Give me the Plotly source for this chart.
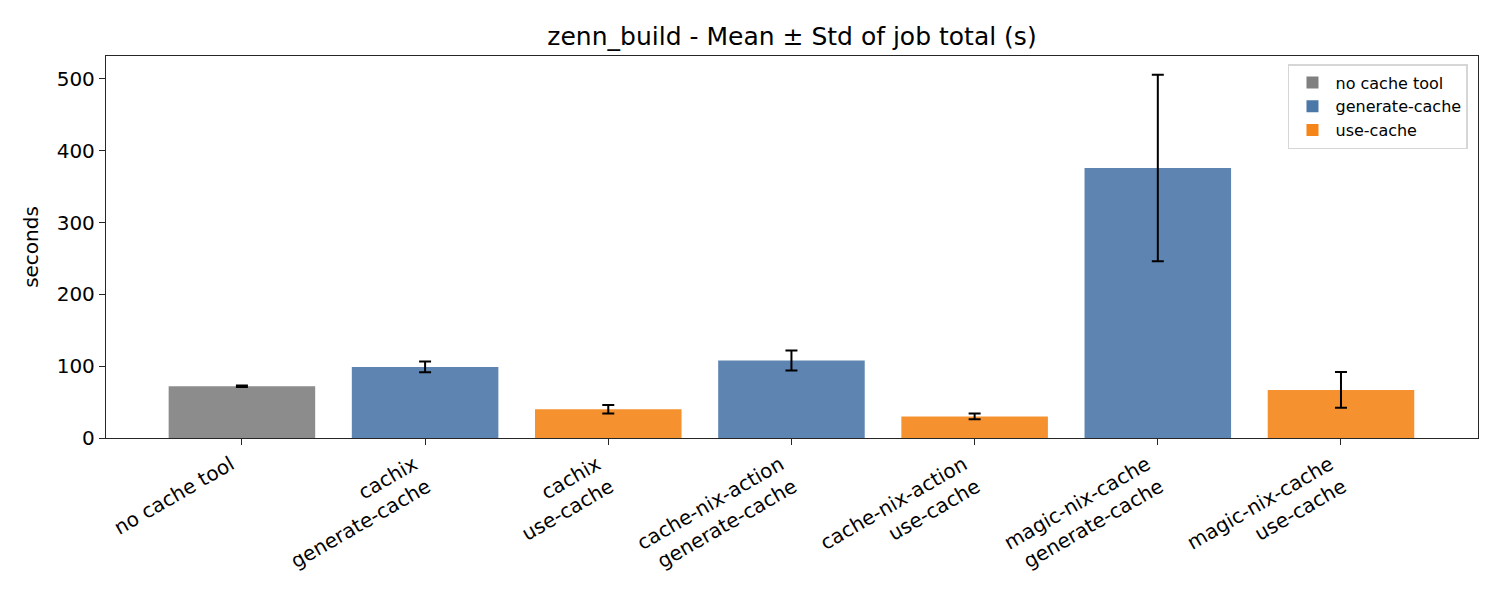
import plotly.graph_objects as go

# categories (tick labels) and per-bar values
labels = [
    "no cache tool",
    "cachix<br>generate-cache",
    "cachix<br>use-cache",
    "cache-nix-action<br>generate-cache",
    "cache-nix-action<br>use-cache",
    "magic-nix-cache<br>generate-cache",
    "magic-nix-cache<br>use-cache",
]
groups = ["no cache tool", "generate-cache", "use-cache",
          "generate-cache", "use-cache", "generate-cache", "use-cache"]
means = [72, 99, 40, 108, 30, 376, 67]
stds = [1, 7.5, 6, 14, 4, 130, 25]

colors = {
    "no cache tool": "#808080",
    "generate-cache": "#4c78a8",
    "use-cache": "#f58518",
}

fig = go.Figure()
for g in ["no cache tool", "generate-cache", "use-cache"]:
    idx = [i for i, x in enumerate(groups) if x == g]
    fig.add_trace(
        go.Bar(
            x=idx,
            y=[means[i] for i in idx],
            name=g,
            width=0.8,
            marker=dict(color=colors[g], opacity=0.9, line=dict(width=0)),
            error_y=dict(
                type="data",
                array=[stds[i] for i in idx],
                color="black",
                thickness=2,
                width=6,
            ),
        )
    )

# the page body has an 8px margin, so the figure is a bit smaller
font = "DejaVu Sans"
fig.update_layout(
    width=1492,
    height=592,
    margin=dict(l=98, r=22, t=48, b=162),
    plot_bgcolor="white",
    paper_bgcolor="white",
    font=dict(family=font, size=20, color="black"),
    barmode="overlay",
    title=dict(
        text="zenn_build - Mean ± Std of job total (s)",
        xref="paper",
        x=0.5,
        xanchor="center",
        y=0.953,
        yanchor="middle",
        font=dict(size=25),
    ),
    legend=dict(
        x=0.9927,
        y=0.979,
        xanchor="right",
        yanchor="top",
        bordercolor="#d6d6d6",
        borderwidth=1.5,
        font=dict(size=16),
        bgcolor="rgba(255,255,255,0.8)",
        itemwidth=36,
        tracegroupgap=4,
    ),
    showlegend=True,
)
fig.update_xaxes(
    tickmode="array",
    tickvals=list(range(len(labels))),
    ticktext=labels,
    tickangle=-30,
    ticklabelshift=-11,
    range=[-0.742, 6.748],
    showgrid=False,
    zeroline=False,
    showline=True,
    linecolor="#262626",
    linewidth=1.3,
    mirror=True,
    ticks="outside",
    ticklen=6,
    tickcolor="#262626",
)
fig.update_yaxes(
    title=dict(text="seconds", font=dict(size=20), standoff=12),
    range=[0, 532],
    tickvals=[0, 100, 200, 300, 400, 500],
    showgrid=False,
    zeroline=False,
    showline=True,
    linecolor="#262626",
    linewidth=1.3,
    mirror=True,
    ticks="outside",
    ticklen=6,
    tickcolor="#262626",
)

fig.write_html("out.html")
